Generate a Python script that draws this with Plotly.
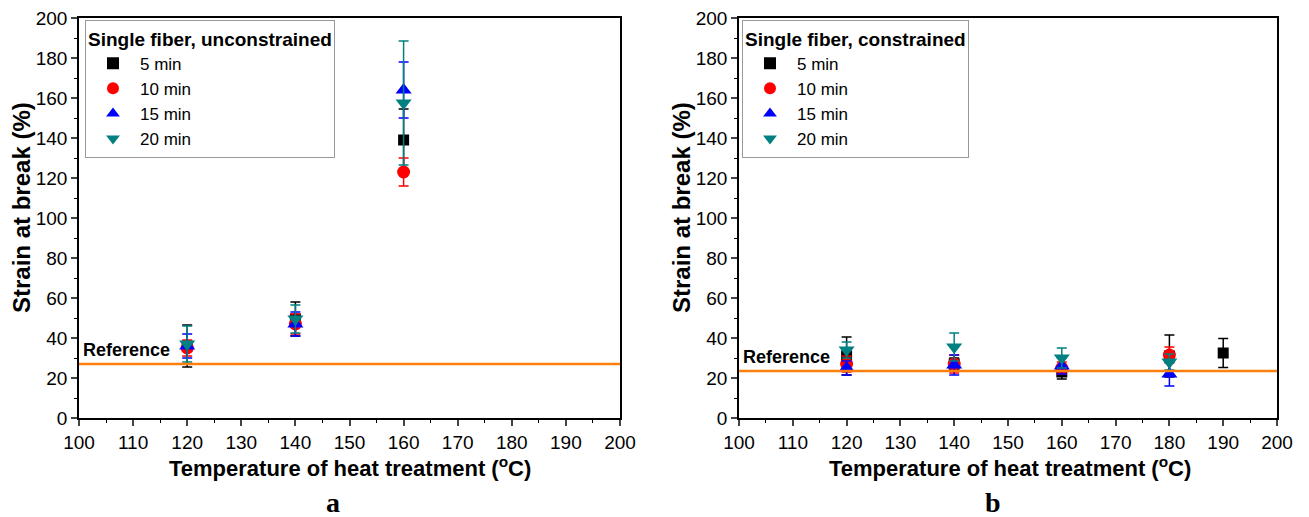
import plotly.graph_objects as go

W, H = 1309, 517

temps_a = [120, 140, 160]
a5 = [36, 49.5, 139]; a5e = [10.5, 8.5, 15.5]
a10 = [35, 47, 123]; a10e = [4, 5, 7]
a15 = [36, 47, 164]; a15e = [6, 6, 14]
a20 = [37, 49.5, 157.5]; a20e = [9, 7, 31]
ref_a = 27

temps_b5 = [120, 140, 160, 180, 190]
b5 = [31, 27, 23, 31, 32.5]; b5e = [9.5, 3, 3.5, 10.5, 7.3]
temps_b = [120, 140, 160, 180]
b10 = [27, 27, 25, 31.5]; b10e = [4, 4.5, 3, 4]
b15 = [25, 26.5, 26, 22]; b15e = [3.5, 5, 4, 6]
b20 = [34, 35.5, 30, 28]; b20e = [4, 7, 5, 4]
ref_b = 23.5

labels = ["5 min", "10 min", "15 min", "20 min"]
colors = ["#000000", "#ff0000", "#0000ff", "#008080"]
symbols = ["square", "circle", "triangle-up", "triangle-down"]
sizes = [11, 13, 14, 14]

fig = go.Figure()

def add_series(xs, ys, es, i, xa, ya, leg):
    fig.add_trace(go.Scatter(
        x=xs, y=ys, mode="markers", name=labels[i],
        marker=dict(symbol=symbols[i], color=colors[i], size=sizes[i], line=dict(width=0)),
        error_y=dict(type="data", array=es, color=colors[i], thickness=1.5, width=5),
        xaxis=xa, yaxis=ya, legend=leg))

for i, (ys, es) in enumerate([(a5, a5e), (a10, a10e), (a15, a15e), (a20, a20e)]):
    add_series(temps_a, ys, es, i, "x", "y", "legend")
add_series(temps_b5, b5, b5e, 0, "x2", "y2", "legend2")
for i, (ys, es) in enumerate([(b10, b10e), (b15, b15e), (b20, b20e)], start=1):
    add_series(temps_b, ys, es, i, "x2", "y2", "legend2")

for xa, ya, r in [("x", "y", ref_a), ("x2", "y2", ref_b)]:
    fig.add_trace(go.Scatter(x=[100, 200], y=[r, r], mode="lines",
                             line=dict(color="#ff7f0e", width=2.5), showlegend=False,
                             hoverinfo="skip", xaxis=xa, yaxis=ya))

y0, y1 = (H - 418) / H, (H - 18) / H
axfont = dict(family="Liberation Sans, Arial", size=19, color="black")
xcommon = dict(range=[100, 200], dtick=10, tick0=100, ticks="outside", ticklen=6, tickwidth=1.5,
               showline=True, linecolor="black", linewidth=1.5, mirror=True, showgrid=False,
               zeroline=False, tickfont=axfont, automargin=False,
               minor=dict(ticks="outside", ticklen=3, dtick=5, tickwidth=1.2, tickcolor="black"))
ycommon = dict(range=[0, 200], dtick=20, tick0=0, ticks="outside", ticklen=6, tickwidth=1.5,
               showline=True, linecolor="black", linewidth=1.5, mirror=True, showgrid=False,
               zeroline=False, tickfont=axfont, automargin=False,
               minor=dict(ticks="outside", ticklen=3, dtick=10, tickwidth=1.2, tickcolor="black"))

legfont = dict(family="Liberation Sans, Arial", size=17, color="black")
legtitlefont = dict(family="Liberation Sans, Arial", size=19, color="black")
fig.update_layout(
    width=W, height=H, margin=dict(l=0, r=0, t=0, b=0),
    plot_bgcolor="white", paper_bgcolor="white",
    xaxis=dict(domain=[79 / W, 620 / W], anchor="y", **xcommon),
    yaxis=dict(domain=[y0, y1], anchor="x", **ycommon),
    xaxis2=dict(domain=[739 / W, 1277 / W], anchor="y2", **xcommon),
    yaxis2=dict(domain=[y0, y1], anchor="x2", **ycommon),
    legend=dict(x=85 / W, y=(H - 20) / H, xanchor="left", yanchor="top",
                bordercolor="#999999", borderwidth=1, bgcolor="white", font=legfont,
                title=dict(text="<b>Single fiber, unconstrained</b>", font=legtitlefont),
                tracegroupgap=0, itemsizing="constant", itemwidth=44),
    legend2=dict(x=742 / W, y=(H - 20) / H, xanchor="left", yanchor="top",
                 bordercolor="#999999", borderwidth=1, bgcolor="white", font=legfont,
                 title=dict(text="<b>Single fiber, constrained</b>", font=legtitlefont),
                 tracegroupgap=0, itemsizing="constant", itemwidth=44),
    showlegend=True,
)

xtitlefont = dict(family="Liberation Sans, Arial", size=22, color="black")
ytitlefont = dict(family="Liberation Sans, Arial", size=24, color="black")
reffont = dict(family="Liberation Sans, Arial", size=18, color="black")
ann = []
for cx in [350, 1010]:
    ann.append(dict(text="<b>Temperature of heat treatment (<sup>o</sup>C)</b>", x=cx / W, y=(H - 467) / H,
                    xref="paper", yref="paper", showarrow=False, font=xtitlefont,
                    xanchor="center", yanchor="middle"))
for cx in [21, 681]:
    ann.append(dict(text="<b>Strain at break (%)</b>", x=cx / W, y=(H - 208) / H, textangle=-90,
                    xref="paper", yref="paper", showarrow=False, font=ytitlefont,
                    xanchor="center", yanchor="middle"))
for cx, t in [(333, "a"), (993, "b")]:
    ann.append(dict(text="<b>%s</b>" % t, x=cx / W, y=(H - 502) / H, xref="paper", yref="paper",
                    showarrow=False, font=dict(family="Liberation Serif, Times New Roman", size=28, color="black"),
                    xanchor="center", yanchor="middle"))
ann.append(dict(text="<b>Reference</b>", x=100.3, y=ref_a + 1.0, xref="x", yref="y", showarrow=False,
                xanchor="left", yanchor="bottom", font=reffont))
ann.append(dict(text="<b>Reference</b>", x=100.3, y=ref_b + 1.0, xref="x2", yref="y2", showarrow=False,
                xanchor="left", yanchor="bottom", font=reffont))
fig.update_layout(annotations=ann)

fig.write_html("out.html")
